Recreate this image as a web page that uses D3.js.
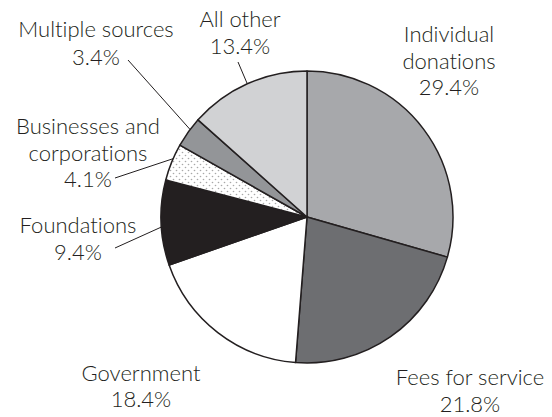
<!DOCTYPE html>
<html>
<head>
<meta charset="utf-8">
<script src="https://cdn.jsdelivr.net/npm/d3@7"></script>
<style>
  body { margin: 0; background: #fff; }
  text { font-family: Lato, "Open Sans", sans-serif; font-size: 22px; font-weight: 300;
         font-variant-ligatures: none; fill: #231f20; }
</style>
</head>
<body>
<svg width="552" height="417"></svg>
<script>
// slice data, clockwise from 12 o'clock
var categories = ["Individual donations", "Fees for service", "Government", "Foundations",
                  "Businesses and corporations", "Multiple sources", "All other"];
var values = [29.4, 21.8, 18.4, 9.4, 4.1, 3.4, 13.4];
var fills = ["#a7a8ab", "#6d6e71", "#ffffff", "#231f20", "url(#dots)", "#939598", "#d1d2d4"];

// label text lines
var labelLines = [
    ["Individual", "donations", "29.4%"],
    ["Fees for service", "21.8%"],
    ["Government", "18.4%"],
    ["Foundations", "9.4%"],
    ["Businesses and", "corporations", "4.1%"],
    ["Multiple sources", "3.4%"],
    ["All other", "13.4%"]
];

var svg = d3.select("svg"),
    cx = 307, cy = 217, radius = 146;

// dotted fill for businesses
var pat = svg.append("defs").append("pattern")
    .attr("id", "dots")
    .attr("patternUnits", "userSpaceOnUse")
    .attr("width", 6).attr("height", 6);
pat.append("rect").attr("width", 6).attr("height", 6).attr("fill", "#fff");
pat.append("circle").attr("cx", 1.5).attr("cy", 1.5).attr("r", 0.8).attr("fill", "#a8a8a8");
pat.append("circle").attr("cx", 4.5).attr("cy", 4.5).attr("r", 0.8).attr("fill", "#a8a8a8");

var pie = d3.pie().sort(null).value(d => d);
var arcs = pie(values);
var arc = d3.arc().innerRadius(0).outerRadius(radius);

var g = svg.append("g").attr("transform", `translate(${cx},${cy})`);

g.selectAll("path")
    .data(arcs)
    .enter().append("path")
    .attr("d", arc)
    .attr("fill", (d, i) => fills[i])
    .attr("stroke", "#231f20")
    .attr("stroke-width", 1.5)
    .attr("stroke-linejoin", "round");

// label positions (centre x, first baseline y) and leader lines
var labelPos = [
    { x: 449, y: 42 },
    { x: 470, y: 385 },
    { x: 141, y: 381 },
    { x: 78, y: 233, from: [115, 248], t: 0.45 },
    { x: 88, y: 134, from: [115, 178], t: 0.6 },
    { x: 96, y: 37, from: [128, 60], t: 0.6 },
    { x: 240, y: 27, from: [238, 62], t: 0.5 }
];
var lineH = [26.5, 27, 26, 27, 26.5, 28, 27];

labelLines.forEach(function(lines, i) {
    var p = labelPos[i];
    var t = svg.append("text").attr("text-anchor", "middle");
    lines.forEach(function(s, j) {
        t.append("tspan").attr("x", p.x).attr("y", p.y + j * lineH[i]).text(s);
    });
    if (p.from) {
        var a = arcs[i].startAngle + (arcs[i].endAngle - arcs[i].startAngle) * p.t;
        svg.append("line")
            .attr("x1", p.from[0]).attr("y1", p.from[1])
            .attr("x2", cx + radius * Math.sin(a))
            .attr("y2", cy - radius * Math.cos(a))
            .attr("stroke", "#231f20")
            .attr("stroke-width", 1);
    }
});
</script>
</body>
</html>
